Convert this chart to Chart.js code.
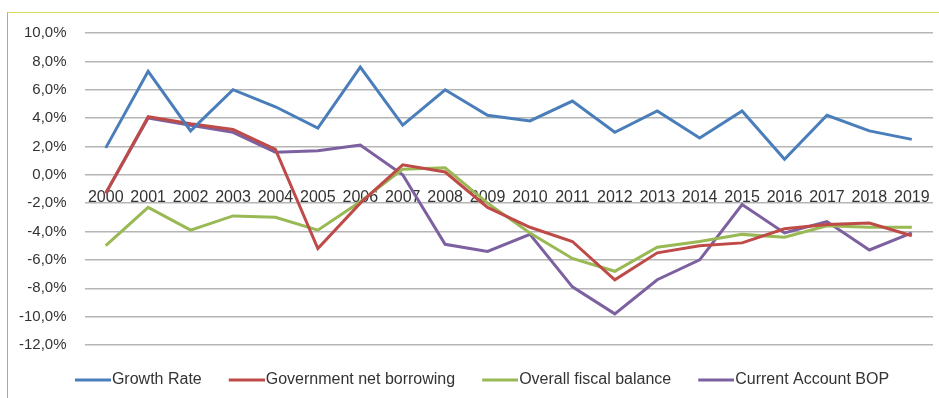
<!DOCTYPE html>
<html>
<head>
<meta charset="utf-8">
<script src="https://cdn.jsdelivr.net/npm/chart.js@4"></script>
<style>
  html, body { margin: 0; padding: 0; background: #fff; }
  #wrap { position: relative; width: 939px; height: 398px; overflow: hidden; }
  #frame {
    position: absolute; left: 7px; top: 12px; width: 960px; height: 420px;
    border-top: 1px solid #d8d860; border-left: 1px solid #a8a8a8;
  }
  canvas { position: absolute; left: 0; top: 0; }
</style>
</head>
<body>
<div id="wrap">
  <div id="frame"></div>
  <canvas id="my-chart"></canvas>
</div>
<script>
const years = ["2000", "2001", "2002", "2003", "2004", "2005", "2006", "2007", "2008", "2009",
  "2010", "2011", "2012", "2013", "2014", "2015", "2016", "2017", "2018", "2019"];

// values in percent
const growthRate = [1.9, 7.3, 3.1, 6.0, 4.8, 3.3, 7.6, 3.5, 6.0, 4.2,
  3.8, 5.2, 3.0, 4.5, 2.6, 4.5, 1.1, 4.2, 3.1, 2.5];
const govBorrowing = [-1.3, 4.1, 3.6, 3.2, 1.8, -5.2, -2.0, 0.7, 0.2, -2.3,
  -3.7, -4.7, -7.4, -5.5, -5.0, -4.8, -3.8, -3.5, -3.4, -4.3];
const fiscalBalance = [-5.0, -2.3, -3.9, -2.9, -3.0, -3.9, -1.9, 0.4, 0.5, -2.0,
  -4.1, -5.9, -6.8, -5.1, -4.7, -4.2, -4.4, -3.6, -3.7, -3.7];
const currentAccount = [-1.3, 4.0, 3.5, 3.0, 1.6, 1.7, 2.1, 0.0, -4.9, -5.4,
  -4.2, -7.9, -9.8, -7.4, -6.0, -2.1, -4.1, -3.3, -5.3, -4.1];

const yMin = -12;
const yMax = 10;
const yStep = 2;

// legend swatch: a short line that sits right against the label text
function swatch(color) {
  const c = document.createElement("canvas");
  c.width = 43;
  c.height = 6;
  const g = c.getContext("2d");
  g.strokeStyle = color;
  g.lineWidth = 3;
  g.beginPath();
  g.moveTo(7, 3);
  g.lineTo(43, 3);
  g.stroke();
  return c;
}

function line(label, data, color) {
  return {
    label: label,
    data: data,
    borderColor: color,
    backgroundColor: color,
    borderWidth: 3,
    pointRadius: 0,
    pointStyle: swatch(color),
    tension: 0,
    fill: false
  };
}

// the legend sits a bit right of the canvas centre in the original
const legendShift = {
  id: "legendShift",
  afterLayout(chart) {
    chart.legend.left += 15;
    chart.legend.right += 15;
  }
};

const ctx = document.getElementById("my-chart").getContext("2d");
const chart = new Chart(ctx, {
  type: "line",
  data: {
    labels: years,
    datasets: [
      line("Growth Rate", growthRate, "#4a7ebb"),
      line("Government net borrowing", govBorrowing, "#be4b48"),
      line("Overall fiscal balance", fiscalBalance, "#98b954"),
      line("Current Account BOP", currentAccount, "#7d60a0")
    ]
  },
  plugins: [legendShift],
  options: {
    responsive: true,
    maintainAspectRatio: false,
    animation: false,
    layout: { padding: { left: 1, right: 6, top: 33, bottom: 0 } },
    plugins: {
      tooltip: { enabled: false },
      legend: {
        position: "bottom",
        labels: {
          usePointStyle: true,
          pointStyleWidth: 29,
          padding: 27,
          color: "#333",
          font: { family: "'Liberation Sans', Arial, sans-serif", size: 16 }
        }
      }
    },
    scales: {
      x: {
        position: { y: 0 },
        offset: true,
        // invisible tick marks push the labels below the zero line
        grid: { color: "rgba(0,0,0,0)", drawOnChartArea: false, drawTicks: true, tickLength: 13 },
        border: { display: false },
        ticks: {
          padding: 0,
          maxRotation: 0,
          autoSkip: false,
          color: "#333",
          font: { family: "'Liberation Sans', Arial, sans-serif", size: 16 }
        }
      },
      y: {
        min: yMin,
        max: yMax,
        grid: { color: "#b5b5b5", lineWidth: 1.5, drawTicks: false },
        border: { display: false },
        ticks: {
          stepSize: yStep,
          padding: 18,
          color: "#333",
          font: { family: "'Liberation Sans', Arial, sans-serif", size: 15 },
          callback: (v) => v.toFixed(1).replace(".", ",") + "%"
        }
      }
    }
  }
});
</script>
</body>
</html>
